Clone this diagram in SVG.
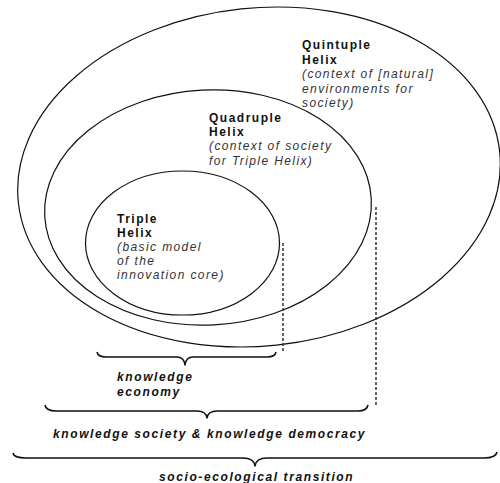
<svg xmlns="http://www.w3.org/2000/svg" width="500" height="483" viewBox="0 0 500 483">
<style>
.ring{fill:none;stroke:#111;stroke-width:1.2}
.brace{fill:none;stroke:#111;stroke-width:1.6;stroke-linejoin:round}
.dash{stroke:#333;stroke-width:1.5;stroke-dasharray:3,2;fill:none}
text{font-family:"Liberation Sans",Arial,sans-serif;font-size:12px}
.b{font-weight:bold;fill:#111;letter-spacing:1.5px}
.i{font-style:italic;fill:#333;letter-spacing:1.4px}
.bi{font-weight:bold;font-style:italic;fill:#111;letter-spacing:1.6px}
</style>
<rect width="500" height="483" fill="#fff"/>
<g id="quintuple">
<ellipse class="ring" cx="259" cy="177" rx="242" ry="169" transform="rotate(-6 259 177)"/>
<text x="302" y="49" class="b">Quintuple</text>
<text x="302" y="64" class="b">Helix</text>
<text x="302" y="78" class="i">(context of [natural]</text>
<text x="302" y="93" class="i">environments for</text>
<text x="302" y="107" class="i">society)</text>
</g>
<g id="quadruple">
<ellipse class="ring" cx="208" cy="207.5" rx="163.5" ry="117.5" transform="rotate(-3 208 207.5)"/>
<text x="209" y="122" class="b">Quadruple</text>
<text x="209" y="136" class="b">Helix</text>
<text x="209" y="150" class="i">(context of society</text>
<text x="209" y="165" class="i">for Triple Helix)</text>
</g>
<g id="triple">
<ellipse class="ring" cx="182.5" cy="243" rx="97" ry="72"/>
<text x="117" y="223" class="b">Triple</text>
<text x="117" y="237" class="b">Helix</text>
<text x="117" y="251" class="i">(basic model</text>
<text x="117" y="265" class="i">of the</text>
<text x="117" y="279" class="i">innovation core)</text>
</g>
<g id="connectors">
<line class="dash" x1="283" y1="243" x2="283" y2="352"/>
<line class="dash" x1="376" y1="207" x2="376" y2="406"/>
<path class="brace" d="M97,352 Q98,357 106,357 L177,357 Q184,357 185,365 Q186,357 193,357 L267,357 Q275,357 276,352"/>
<path class="brace" d="M45,405 Q46,411 56,411 L197,411 Q206,411 207,418 Q208,411 217,411 L358,411 Q367,411 368,405"/>
<path class="brace" d="M13,453 Q14,458 26,458 L243,458 Q254,458 255,466 Q256,458 267,458 L484,458 Q496,458 497,452"/>
</g>
<g id="knowledge-economy">
<text x="117" y="381" class="bi">knowledge</text>
<text x="117" y="396" class="bi">economy</text>
</g>
<g id="knowledge-society">
<text x="53" y="438" class="bi">knowledge society &amp; knowledge democracy</text>
</g>
<g id="socio-ecological">
<text x="159" y="481" class="bi">socio-ecological transition</text>
</g>
</svg>
